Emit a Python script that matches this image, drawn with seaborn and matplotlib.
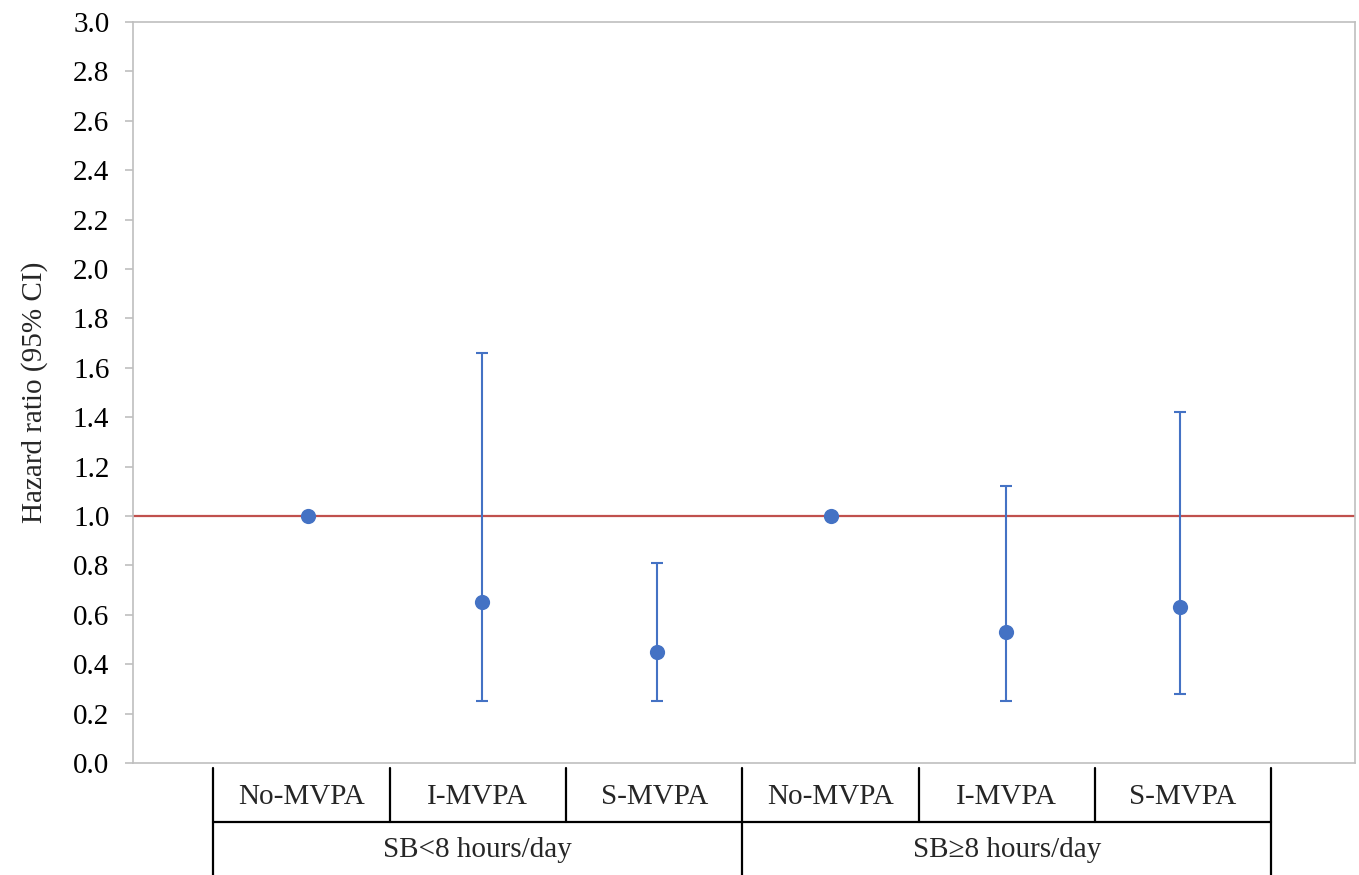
import numpy as np
import pandas as pd
import matplotlib
matplotlib.use('Agg')
import matplotlib.pyplot as plt
import seaborn as sns

# Hazard ratios with 95% CI
activity = ['No-MVPA', 'I-MVPA', 'S-MVPA', 'No-MVPA', 'I-MVPA', 'S-MVPA']
groups = ['SB<8 hours/day', 'SB\u22658 hours/day']
hr = [1.00, 0.65, 0.45, 1.00, 0.53, 0.63]
ci_low = [np.nan, 0.25, 0.25, np.nan, 0.25, 0.28]
ci_high = [np.nan, 1.66, 0.81, np.nan, 1.12, 1.42]
yticks = np.round(np.arange(0, 3.01, 0.2), 1)

df = pd.DataFrame({'pos': np.arange(1, len(hr) + 1), 'activity': activity,
                   'hr': hr, 'low': ci_low, 'high': ci_high})

sns.set_theme(style='white')
plt.rcParams['font.family'] = ['Liberation Serif', 'DejaVu Serif']

blue = '#4472C4'
red = '#C0504D'
grey = '#BFBFBF'
fs = 21

fig = plt.figure(figsize=(13.59, 8.75), dpi=100)
ax = fig.add_axes([0.0979, 0.128, 0.8992, 0.8469])

# reference line
ax.axhline(1.0, color=red, lw=1.6, zorder=1)

# confidence intervals
ci = df.dropna()
ax.errorbar(ci['pos'], ci['hr'],
            yerr=[ci['hr'] - ci['low'], ci['high'] - ci['hr']],
            fmt='none', ecolor=blue, elinewidth=1.5, capsize=4.5,
            capthick=1.5, zorder=2)

sns.scatterplot(data=df, x='pos', y='hr', ax=ax, color=blue, s=120,
                edgecolor=blue, linewidth=0, zorder=3, legend=False)

ax.set_xlim(0, 7)
ax.set_ylim(0, 3.0)
ax.set_yticks(yticks)
ax.set_yticklabels([f'{v:.1f}' for v in yticks], fontsize=fs)
ax.set_xticks([])
ax.set_xlabel('')
ax.set_ylabel('Hazard ratio (95% CI)', fontsize=fs, labelpad=18)

for s in ax.spines.values():
    s.set_color(grey)
    s.set_linewidth(1.2)
ax.tick_params(axis='y', which='both', left=True, length=6, width=1.2,
               color=grey, pad=11, labelcolor='black')

# category table below the axis
tr = ax.get_xaxis_transform()
outer = [0.46, 3.49, 6.52]
inner = [0.46, 1.47, 2.48, 3.49, 4.50, 5.51, 6.52]
y_top, y_mid, y_bot = -0.007, -0.080, -0.20
for x in inner:
    bottom = y_bot if x in outer else y_mid
    ax.plot([x, x], [y_top, bottom], transform=tr, color='black', lw=1.6,
            clip_on=False)
ax.plot([inner[0], inner[-1]], [y_mid, y_mid], transform=tr, color='black',
        lw=1.6, clip_on=False)
for i, lab in enumerate(activity):
    ax.text((inner[i] + inner[i + 1]) / 2, -0.046, lab, transform=tr,
            ha='center', va='center', fontsize=fs)
for i, g in enumerate(groups):
    ax.text((outer[i] + outer[i + 1]) / 2, -0.117, g, transform=tr,
            ha='center', va='center', fontsize=fs)

fig.savefig('out.png', dpi=100)
